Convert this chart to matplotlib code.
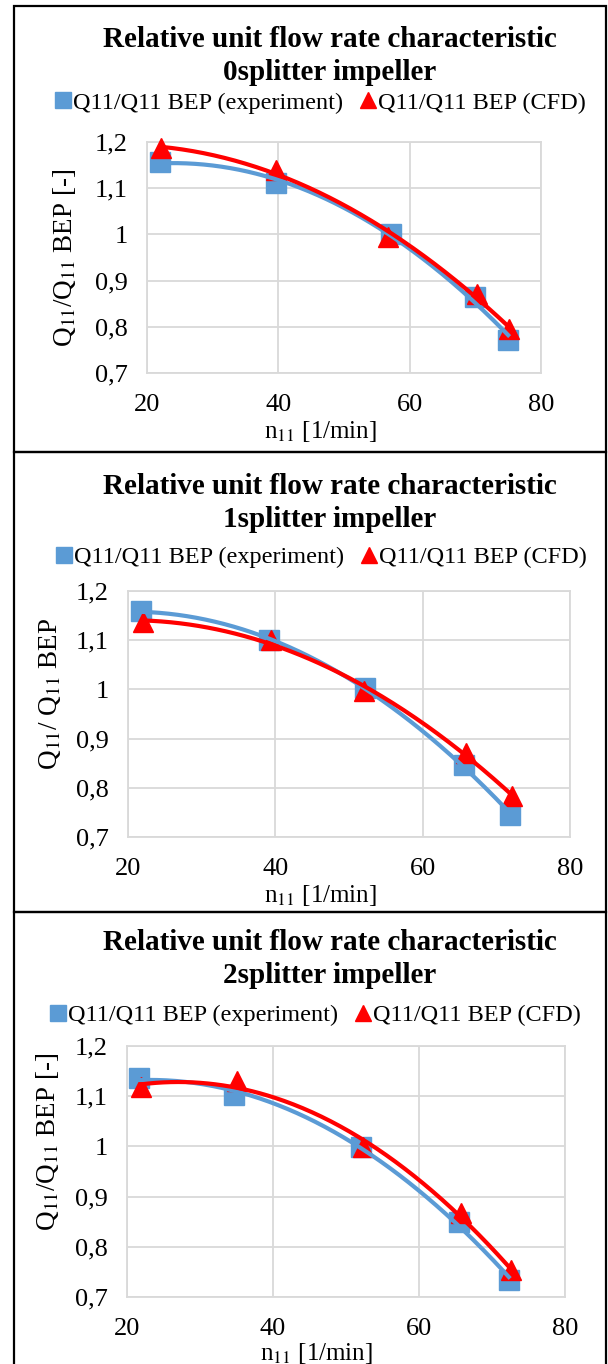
import numpy as np
import matplotlib
matplotlib.use("Agg")
import matplotlib.pyplot as plt
from matplotlib.patches import Rectangle

plt.rcParams["font.family"] = ["Liberation Serif", "DejaVu Serif"]
plt.rcParams["mathtext.fontset"] = "stix"

W, H = 608, 1364
BLUE = "#5B9BD5"
RED = "#FF0000"
GRID = "#D9D9D9"

# ---------------- data ----------------
titles = ["Relative unit flow rate characteristic\n0splitter impeller",
          "Relative unit flow rate characteristic\n1splitter impeller",
          "Relative unit flow rate characteristic\n2splitter impeller"]
ylabels = [r"Q$_{11}$/Q$_{11}$ BEP [-]",
           r"Q$_{11}$/ Q$_{11}$ BEP",
           r"Q$_{11}$/Q$_{11}$ BEP [-]"]
xlabel = r"n$_{11}$ [1/min]"
xticks = [20, 40, 60, 80]
yticks = [0.7, 0.8, 0.9, 1.0, 1.1, 1.2]
yticklabels = ["0,7", "0,8", "0,9", "1", "1,1", "1,2"]

n_exp0 = [22.0, 39.6, 57.2, 70.0, 75.0]
q_exp0 = [1.157, 1.111, 1.000, 0.864, 0.771]
n_cfd0 = [22.2, 39.7, 56.7, 70.2, 75.2]
q_cfd0 = [1.187, 1.139, 0.995, 0.872, 0.795]

n_exp1 = [21.7, 39.1, 52.2, 65.6, 71.9]
q_exp1 = [1.159, 1.100, 1.002, 0.847, 0.744]
n_cfd1 = [22.0, 39.4, 52.0, 65.9, 72.1]
q_cfd1 = [1.138, 1.101, 0.996, 0.871, 0.784]

n_exp2 = [21.6, 34.6, 52.1, 65.5, 72.3]
q_exp2 = [1.136, 1.103, 0.998, 0.850, 0.733]
n_cfd2 = [21.9, 35.1, 52.3, 65.7, 72.6]
q_cfd2 = [1.118, 1.131, 0.998, 0.868, 0.754]

exp_series = [(n_exp0, q_exp0), (n_exp1, q_exp1), (n_exp2, q_exp2)]
cfd_series = [(n_cfd0, q_cfd0), (n_cfd1, q_cfd1), (n_cfd2, q_cfd2)]

# ---------------- layout (pixels) ----------------
# plot area: left, right, top, bottom
axes_px = [(147, 541, 142, 373), (128, 570, 591, 837), (127, 565, 1046, 1297)]
panel_px = [(14, 606, 6, 452), (14, 606, 452, 912), (14, 606, 912, 1368)]
title_y = [56, 503, 959]
legend_pos = [(321, 103), (322, 557), (316, 1015)]
ylabel_pos = [(64, 258), (50, 694), (48, 1142)]
xlabel_pos = [(320, 432), (320, 895), (316, 1353)]


def fx(px):
    return px / W


def fy(py):
    return 1 - py / H


def trend(x, y):
    # Excel style polynomial trendline, order 2
    c = np.polyfit(x, y, 2)
    xs = np.linspace(min(x), max(x), 200)
    return xs, np.polyval(c, xs)


fig = plt.figure(figsize=(W / 100, H / 100), dpi=100)

for i in range(3):
    l, r, t, b = panel_px[i]
    fig.add_artist(Rectangle((fx(l), fy(b)), fx(r) - fx(l), fy(t) - fy(b),
                             transform=fig.transFigure, fill=False,
                             edgecolor="black", lw=1.6))

    l, r, t, b = axes_px[i]
    ax = fig.add_axes([fx(l), fy(b), fx(r) - fx(l), fy(t) - fy(b)])
    ne, qe = exp_series[i]
    nc, qc = cfd_series[i]
    h1, = ax.plot(ne, qe, "s", color=BLUE, ms=14, zorder=3, clip_on=False,
                  label="Q11/Q11 BEP (experiment)")
    h2, = ax.plot(nc, qc, "^", color=RED, ms=14, zorder=4, clip_on=False,
                  label="Q11/Q11 BEP (CFD)")
    xs, ys = trend(ne, qe)
    ax.plot(xs, ys, color=BLUE, lw=3.0, zorder=5)
    xs, ys = trend(nc, qc)
    ax.plot(xs, ys, color=RED, lw=3.0, zorder=6)

    ax.set_xlim(20, 80)
    ax.set_ylim(0.7, 1.2)
    ax.set_xticks(xticks)
    ax.set_yticks(yticks)
    ax.set_yticklabels(yticklabels)
    ax.tick_params(length=0, labelsize=19)
    ax.tick_params(axis="y", pad=14)
    ax.tick_params(axis="x", pad=15)
    ax.grid(True, color=GRID, lw=1.3)
    ax.set_axisbelow(True)
    for s in ax.spines.values():
        s.set_color(GRID)
        s.set_linewidth(1.3)

    fig.text(fx(330), fy(title_y[i]), titles[i], ha="center", va="center",
             fontsize=21, fontweight="bold", linespacing=1.3)
    lx, ly = legend_pos[i]
    ax.legend(handles=[h1, h2], loc="center", bbox_to_anchor=(fx(lx), fy(ly)),
              bbox_transform=fig.transFigure, ncol=2, frameon=False,
              fontsize=17.5, handlelength=0.6, handletextpad=0.12,
              columnspacing=0.7, markerscale=0.8, borderpad=0)
    fig.text(fx(ylabel_pos[i][0]), fy(ylabel_pos[i][1]), ylabels[i],
             rotation=90, ha="center", va="center", fontsize=19.5)
    fig.text(fx(xlabel_pos[i][0]), fy(xlabel_pos[i][1]), xlabel,
             ha="center", va="center", fontsize=18)

fig.savefig("out.png", dpi=100)
